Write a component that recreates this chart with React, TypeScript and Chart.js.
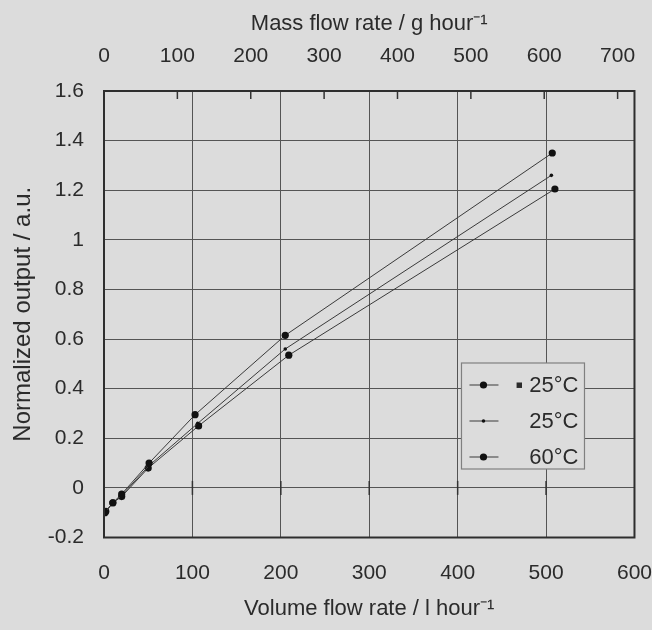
import { useEffect, useRef } from 'react';
import { Chart, registerables } from 'chart.js';

Chart.register(...registerables);

// ---- data ----
const seriesLabels = ['▪ 25°C', '25°C', '60°C'];
const volumeA = [1, 10, 20, 51, 103, 205, 507];
const outputA = [-0.1, -0.06, -0.025, 0.1, 0.295, 0.615, 1.35];
const volumeB = [1, 10, 20, 51, 106, 205, 506];
const outputB = [-0.1, -0.06, -0.03, 0.09, 0.26, 0.56, 1.26];
const volumeC = [2, 10, 20, 50, 107, 209, 510];
const outputC = [-0.095, -0.06, -0.035, 0.08, 0.25, 0.535, 1.205];

const volumeTicks = [0, 100, 200, 300, 400, 500, 600];
const massTicks = [0, 100, 200, 300, 400, 500, 600, 700];
const outputTicks = [-0.2, 0, 0.2, 0.4, 0.6, 0.8, 1, 1.2, 1.4, 1.6];
const massMax = 723;

const xTitle = 'Volume flow rate / l hour⁻¹';
const x2Title = 'Mass flow rate / g hour⁻¹';
const yTitle = 'Normalized output / a.u.';

const FONT = '"Liberation Sans", Arial, sans-serif';
const TEXT = '#2b2b2b';
const GRID = '#555555';
const LINE = '#3a3a3a';
const BG = '#dcdcdc';

const pointRadii = [3.6, 1.8, 3.6];

const decorPlugin = {
  id: 'decor',
  afterDatasetsDraw(chart: any) {
    const { ctx, chartArea: ca, scales } = chart;
    ctx.save();
    ctx.strokeStyle = '#333';
    ctx.lineWidth = 1.5;
    massTicks.slice(1).forEach((v) => {
      const px = scales.x2.getPixelForValue(v);
      ctx.beginPath();
      ctx.moveTo(px, ca.top);
      ctx.lineTo(px, ca.top + 8);
      ctx.stroke();
    });
    const y0 = scales.y.getPixelForValue(0);
    volumeTicks.slice(1, -1).forEach((v) => {
      const px = scales.x.getPixelForValue(v);
      ctx.beginPath();
      ctx.moveTo(px, y0 - 7);
      ctx.lineTo(px, y0 + 7);
      ctx.stroke();
    });
    ctx.strokeStyle = '#2e2e2e';
    ctx.lineWidth = 2;
    ctx.strokeRect(ca.left, ca.top, ca.right - ca.left, ca.bottom - ca.top);

    // legend
    const lx = ca.right - 173;
    const ly = ca.top + 272;
    const lw = 123;
    const lh = 106;
    ctx.fillStyle = BG;
    ctx.fillRect(lx, ly, lw, lh);
    ctx.strokeStyle = '#808080';
    ctx.lineWidth = 1.2;
    ctx.strokeRect(lx, ly, lw, lh);
    ctx.font = `22px ${FONT}`;
    ctx.textAlign = 'right';
    ctx.textBaseline = 'middle';
    chart.data.datasets.forEach((ds: any, i: number) => {
      const ry = ly + 22 + i * 36;
      ctx.strokeStyle = LINE;
      ctx.lineWidth = 1;
      ctx.beginPath();
      ctx.moveTo(lx + 8, ry);
      ctx.lineTo(lx + 37, ry);
      ctx.stroke();
      ctx.fillStyle = '#111';
      ctx.beginPath();
      ctx.arc(lx + 22, ry, pointRadii[i], 0, Math.PI * 2);
      ctx.fill();
      ctx.fillStyle = TEXT;
      ctx.fillText(ds.label, lx + 117, ry + 1);
    });
    ctx.restore();
  },
};

export default function App() {
  const ref = useRef<HTMLCanvasElement | null>(null);
  useEffect(() => {
    document.body.style.margin = '0';
    document.body.style.background = BG;
    const mk = (xs: number[], ys: number[]) => xs.map((x, i) => ({ x, y: ys[i] }));
    const sets = [mk(volumeA, outputA), mk(volumeB, outputB), mk(volumeC, outputC)];
    const chart = new Chart(ref.current as HTMLCanvasElement, {
      type: 'line',
      data: {
        datasets: sets.map((d, i) => ({
          label: seriesLabels[i],
          data: d,
          xAxisID: 'x',
          yAxisID: 'y',
          borderColor: LINE,
          borderWidth: 1,
          pointRadius: pointRadii[i],
          pointBackgroundColor: '#111',
          pointBorderWidth: 0,
          tension: 0,
          fill: false,
        })),
      },
      options: {
        animation: false,
        responsive: false,
        layout: { padding: 0 },
        plugins: { legend: { display: false }, tooltip: { enabled: false } },
        scales: {
          x: {
            type: 'linear',
            position: 'bottom',
            min: 0,
            max: 600,
            afterBuildTicks: (s: any) => {
              s.ticks = volumeTicks.map((v) => ({ value: v }));
            },
            afterFit: (s: any) => {
              s.height = 92.5;
            },
            grid: {
              color: GRID,
              lineWidth: 1,
              drawTicks: true,
              tickLength: 23,
              tickColor: 'rgba(0,0,0,0)',
            },
            border: { display: false },
            ticks: { padding: 0, color: TEXT, font: { family: FONT, size: 21 }, maxRotation: 0 },
            title: {
              display: true,
              text: xTitle,
              color: TEXT,
              font: { family: FONT, size: 22 },
              padding: { top: 0, bottom: 8 },
            },
          },
          x2: {
            type: 'linear',
            position: 'top',
            min: 0,
            max: massMax,
            afterBuildTicks: (s: any) => {
              s.ticks = massTicks.map((v) => ({ value: v }));
            },
            afterFit: (s: any) => {
              s.height = 91;
            },
            grid: {
              display: true,
              drawOnChartArea: false,
              drawTicks: true,
              tickLength: 22,
              color: 'rgba(0,0,0,0)',
              tickColor: 'rgba(0,0,0,0)',
            },
            border: { display: false },
            ticks: { padding: 0, color: TEXT, font: { family: FONT, size: 21 }, maxRotation: 0 },
            title: {
              display: true,
              text: x2Title,
              color: TEXT,
              font: { family: FONT, size: 22 },
              padding: { top: 11, bottom: 0 },
            },
          },
          y: {
            type: 'linear',
            position: 'left',
            min: -0.2,
            max: 1.6,
            afterBuildTicks: (s: any) => {
              s.ticks = outputTicks.map((v) => ({ value: v }));
            },
            afterFit: (s: any) => {
              s.width = 104;
            },
            grid: { color: GRID, lineWidth: 1, drawTicks: false },
            border: { display: false },
            ticks: {
              padding: 20,
              color: TEXT,
              font: { family: FONT, size: 21 },
              callback: (v: any) => String(+Number(v).toFixed(1)),
            },
            title: {
              display: true,
              text: yTitle,
              color: TEXT,
              font: { family: FONT, size: 24 },
              padding: { top: 9, bottom: 0 },
            },
          },
        },
      },
      plugins: [decorPlugin],
    });
    return () => chart.destroy();
  }, []);
  return (
    <div style={{ position: 'fixed', left: 0, top: 0, width: 652, height: 630, background: BG }}>
      <canvas ref={ref} width={652} height={630} style={{ display: 'block' }} />
    </div>
  );
}
